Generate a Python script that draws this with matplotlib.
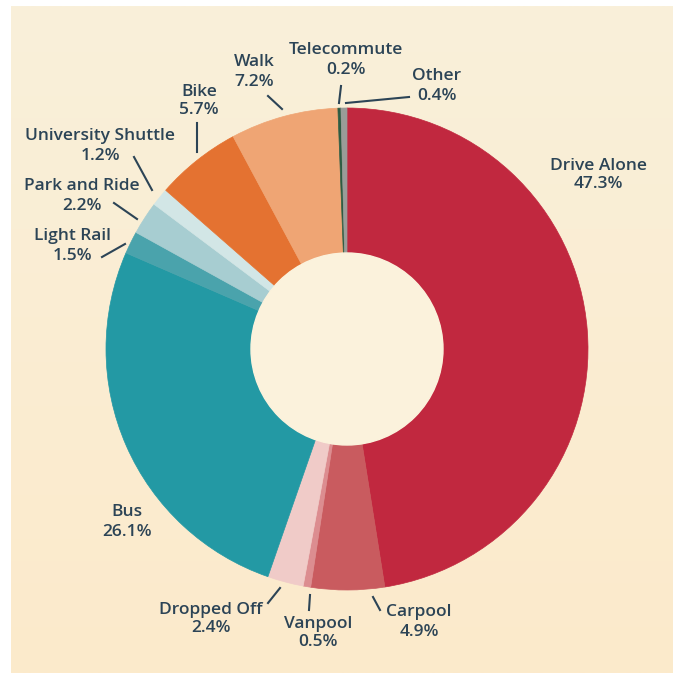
import numpy as np
import matplotlib.pyplot as plt
from matplotlib.colors import LinearSegmentedColormap

# commute mode share, in clockwise order from the top
modes = ['Drive Alone', 'Carpool', 'Vanpool', 'Dropped Off', 'Bus', 'Light Rail',
         'Park and Ride', 'University Shuttle', 'Bike', 'Walk', 'Telecommute', 'Other']
shares = [47.3, 4.9, 0.5, 2.4, 26.1, 1.5, 2.2, 1.2, 5.7, 7.2, 0.2, 0.4]

colors = ['#C1283F', '#C95B5F', '#DC8D90', '#F0CBC8', '#2399A4', '#4AA3AC',
          '#A7CDD1', '#D2E6E6', '#E47231', '#EFA574', '#2E5C43', '#9A9C98']

W = 673
text_color = '#2C4456'


def px(x, y):
    # image-style coordinates (origin top left) to axes data
    return x, W - y


# label centres and leader lines, in pixel coordinates
label_pos = {
    'Drive Alone': (598, 175), 'Carpool': (419, 622), 'Vanpool': (318, 633),
    'Dropped Off': (211, 619), 'Bus': (127, 522), 'Light Rail': (73, 246),
    'Park and Ride': (82, 196), 'University Shuttle': (100, 146),
    'Bike': (199, 101), 'Walk': (254, 72), 'Telecommute': (346, 60),
    'Other': (437, 86),
}
leaders = {
    'Carpool': ((373, 597), (380, 610)),
    'Vanpool': ((310, 595), (309, 610)),
    'Dropped Off': ((280, 588), (268, 603)),
    'Light Rail': ((125, 244), (102, 257)),
    'Park and Ride': ((137, 219), (114, 203)),
    'University Shuttle': ((152, 190), (134, 157)),
    'Bike': ((197, 152), (197, 123)),
    'Walk': ((282, 109), (268, 96)),
    'Telecommute': ((339, 103), (341, 86)),
    'Other': ((346, 103), (409, 97)),
}

plt.rcParams['font.family'] = ['Open Sans', 'DejaVu Sans']

fig = plt.figure(figsize=(6.73, 6.73), dpi=100)
fig.patch.set_facecolor('white')
ax = fig.add_axes([0, 0, 1, 1])

# cream panel with a faint vertical gradient
cmap = LinearSegmentedColormap.from_list('panel', ['#FCEACB', '#F9F0DA'])
grad = np.linspace(0, 1, 256).reshape(-1, 1)
ax.imshow(grad, cmap=cmap, extent=[11, W, 0, W - 6], origin='lower',
          aspect='auto', zorder=0)

cx, cy = px(347, 349)
R = 241
wedges, _ = ax.pie(shares, colors=colors, startangle=90, counterclock=False,
                   center=(cx, cy), radius=R, frame=True,
                   wedgeprops=dict(width=R - 96, linewidth=0.5))
for w in wedges:
    w.set_edgecolor(w.get_facecolor())
    w.set_zorder(2)
ax.add_patch(plt.Circle((cx, cy), 96, color='#FBF2DC', zorder=3))
ax.set_xlim(0, W)
ax.set_ylim(0, W)
ax.set_aspect('equal')
ax.axis('off')

for mode, val in zip(modes, shares):
    x, y = px(*label_pos[mode])
    ax.text(x, y, f'{mode}\n{val}%', ha='center', va='center', fontsize=12.5,
            fontweight='semibold', color=text_color, linespacing=1.25, zorder=5)
    if mode in leaders:
        (x0, y0), (x1, y1) = leaders[mode]
        ax.plot([x0, x1], [W - y0, W - y1], color=text_color, lw=1.5, zorder=4)

plt.savefig('out.png', dpi=100)
